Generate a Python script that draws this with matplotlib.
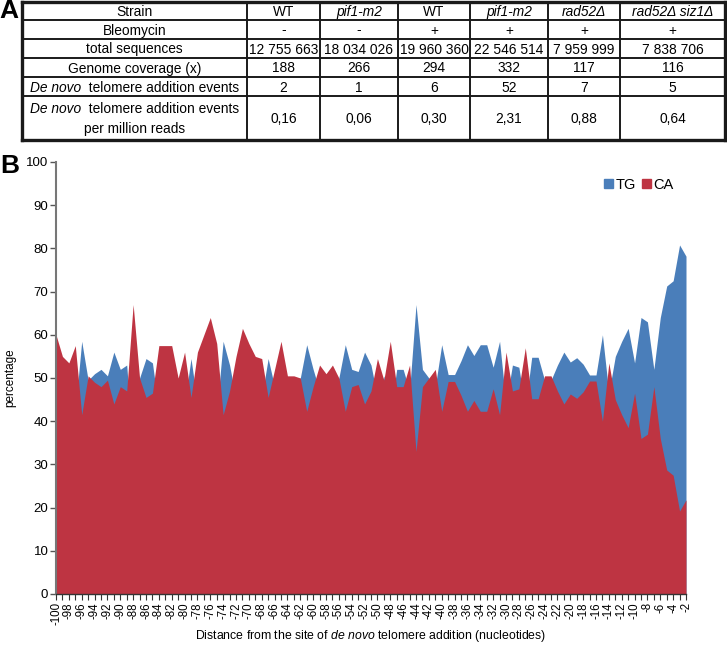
import matplotlib
matplotlib.use("Agg")
import matplotlib.pyplot as plt
from matplotlib.patches import Patch
from matplotlib import font_manager
import numpy as np

names = {f.name for f in font_manager.fontManager.ttflist}
narrow = 'Liberation Sans Narrow' in names

plt.rcParams['font.family'] = ['Liberation Sans', 'DejaVu Sans']
plt.rcParams['mathtext.fontset'] = 'custom'
plt.rcParams['mathtext.rm'] = 'Liberation Sans'
plt.rcParams['mathtext.it'] = 'Liberation Sans:italic'

# ---------------- data ----------------
positions = list(range(-100, -1))  # -100 .. -2

ca_values = [
    60, 55, 53.5, 57.5, 41.5, 50.5, 49, 48, 49.5, 44,      # -100 .. -91
    48, 47, 67, 50, 45.5, 46.5, 57.5, 57.5, 57.5, 50,      # -90 .. -81
    56, 45.5, 56, 60, 64, 58, 41.5, 47, 55, 61.5,         # -80 .. -71
    58, 55, 54.5, 45.5, 52, 58.5, 50.5, 50.5, 50, 42.3,   # -70 .. -61
    48, 53, 51, 53, 50, 42.3, 48, 48.5, 44, 47,           # -60 .. -51
    54.5, 49.5, 58.5, 48, 48, 53, 33, 48, 50, 52,         # -50 .. -41
    42.3, 49.2, 49.2, 46, 42.3, 44.8, 42.3, 42.3, 47.5, 41.5,  # -40 .. -31
    56, 47, 47.5, 57, 45.2, 45.2, 50.5, 50.5, 47, 44,     # -30 .. -21
    46.3, 45.3, 46.8, 49.3, 49.3, 40, 53.5, 45, 41.5, 38.5,   # -20 .. -11
    46.5, 36, 37, 48, 36, 28.7, 27.5, 19.2, 21.8,         # -10 .. -2
]

tg_values = [
    40, 45, 46.5, 42.5, 58.5, 49.5, 51, 52, 50.5, 56,
    52, 53, 33, 50, 54.5, 53.5, 42.5, 42.5, 42.5, 50,
    44, 54.5, 44, 40, 36, 42, 58.5, 53, 45, 38.5,
    42, 45, 45.5, 54.5, 48, 41.5, 49.5, 49.5, 50, 57.7,
    52, 47, 49, 47, 50, 57.7, 52, 51.5, 56, 53,
    45.5, 50.5, 41.5, 52, 52, 47, 67, 52, 50, 48,
    57.7, 50.8, 50.8, 54, 57.7, 55.2, 57.7, 57.7, 52.5, 58.5,
    44, 53, 52.5, 43, 54.8, 54.8, 49.5, 49.5, 53, 56,
    53.7, 54.7, 53.2, 50.7, 50.7, 60, 46.5, 55, 58.5, 61.5,
    53.5, 64, 63, 52, 64, 71.3, 72.5, 80.8, 78.2,
]

series_names = ["TG", "CA"]

table_columns = ["WT", "pif1-m2", "WT", "pif1-m2", "rad52\u0394", "rad52\u0394 siz1\u0394"]
col_italic = [False, True, False, True, True, True]
bleomycin = ["-", "-", "+", "+", "+", "+"]
total_sequences = ["12 755 663", "18 034 026", "19 960 360", "22 546 514", "7 959 999", "7 838 706"]
genome_coverage = ["188", "266", "294", "332", "117", "116"]
events = ["2", "1", "6", "52", "7", "5"]
events_per_million = ["0,16", "0,06", "0,30", "2,31", "0,88", "0,64"]

# ---------------- figure ----------------
W, H = 727, 645
fig = plt.figure(figsize=(W / 100, H / 100), dpi=100)

ov = fig.add_axes([0, 0, 1, 1])
ov.set_xlim(0, W)
ov.set_ylim(H, 0)
ov.axis('off')

blue = '#4A7EBA'
red = '#BE3442'

# ---- table (panel A) ----
if narrow:
    tfam = ['Liberation Sans Narrow', 'DejaVu Sans']
    fs = 10.8
else:
    tfam = ['Liberation Sans', 'DejaVu Sans']
    fs = 9.9

col_edges = [22, 247, 320, 398, 470, 548, 620, 725]
row_edges = [2, 20, 39, 58, 77, 96, 140]
for xe in col_edges:
    lw = 2.4 if xe in (col_edges[0], col_edges[-1]) else 1.4
    ov.plot([xe, xe], [row_edges[0], row_edges[-1]], color='#1a1a1a', lw=lw, solid_capstyle='projecting')
for ye in row_edges:
    lw = 2.4 if ye in (row_edges[0], row_edges[-1]) else 1.4
    ov.plot([col_edges[0], col_edges[-1]], [ye, ye], color='#1a1a1a', lw=lw, solid_capstyle='projecting')

ov.text(9, 11, "A", fontsize=19, fontweight='bold', ha='center', va='center')
ov.text(10, 166, "B", fontsize=19, fontweight='bold', ha='center', va='center')

row_labels = ["Strain", "Bleomycin", "total sequences", "Genome coverage (x)"]
rows_data = [table_columns, bleomycin, total_sequences, genome_coverage]
lx = (col_edges[0] + col_edges[1]) / 2
for r, (lab, vals) in enumerate(zip(row_labels, rows_data)):
    yc = (row_edges[r] + row_edges[r + 1]) / 2 + 1
    ov.text(lx, yc, lab, fontsize=fs, ha='center', va='center', family=tfam)
    for c, v in enumerate(vals):
        xc = (col_edges[c + 1] + col_edges[c + 2]) / 2
        st = 'italic' if (r == 0 and col_italic[c]) else 'normal'
        ov.text(xc, yc, v, fontsize=fs, ha='center', va='center', style=st, family=tfam)


def denovo_line(xc, yc):
    # "De novo" italic followed by regular text, centred as a whole
    t1 = ov.text(0, 0, "De novo", fontsize=fs, style='italic', family=tfam, va='center')
    t2 = ov.text(0, 0, "  telomere addition events", fontsize=fs, family=tfam, va='center')
    fig.canvas.draw()
    r = fig.canvas.get_renderer()
    inv = ov.transData.inverted()
    b1 = t1.get_window_extent(r)
    b2 = t2.get_window_extent(r)
    w1 = inv.transform((b1.x1, 0))[0] - inv.transform((b1.x0, 0))[0]
    w2 = inv.transform((b2.x1, 0))[0] - inv.transform((b2.x0, 0))[0]
    x0 = xc - (w1 + w2) / 2
    t1.set_position((x0, yc))
    t2.set_position((x0 + w1, yc))


yc = (row_edges[4] + row_edges[5]) / 2 + 1
denovo_line(lx, yc)
for c, v in enumerate(events):
    xc = (col_edges[c + 1] + col_edges[c + 2]) / 2
    ov.text(xc, yc, v, fontsize=fs, ha='center', va='center', family=tfam)
yc = (row_edges[5] + row_edges[6]) / 2 + 1
denovo_line(lx, yc - 10)
ov.text(lx, yc + 10, "per million reads", fontsize=fs, ha='center', va='center', family=tfam)
for c, v in enumerate(events_per_million):
    xc = (col_edges[c + 1] + col_edges[c + 2]) / 2
    ov.text(xc, yc, v, fontsize=fs, ha='center', va='center', family=tfam)

# ---- chart (panel B) ----
left, right, top, bottom = 56, 686, 162, 594
ax = fig.add_axes([left / W, (H - bottom) / H, (right - left) / W, (bottom - top) / H])
x = np.array(positions)
ax.fill_between(x, 0, tg_values, color=blue, lw=0, label=series_names[0])
ax.fill_between(x, 0, ca_values, color=red, lw=0, label=series_names[1])
ax.set_xlim(-100, -2)
ax.set_ylim(0, 100)
ax.set_yticks(range(0, 101, 10))
ax.set_xticks(range(-100, -1, 2))
ax.set_xticks(range(-100, -1, 1), minor=True)
ax.set_xticklabels([str(v) for v in range(-100, -1, 2)], rotation=90, fontsize=8.3)
ax.tick_params(axis='y', labelsize=9.5, length=4, width=1, color='#555555', pad=1.5)
ax.tick_params(axis='x', which='both', length=4, width=0.8, color='#333333', pad=2)
for s in ['top', 'right']:
    ax.spines[s].set_visible(False)
ax.spines['left'].set_color('#777777')
ax.spines['left'].set_linewidth(1.5)
ax.spines['bottom'].set_color('#333333')
ax.spines['bottom'].set_linewidth(1.0)

ov.text(10, 378, "percentage", fontsize=8.5, rotation=90, ha='center', va='center')
ov.text(371, 636, r"Distance from the site of $\it{de\ novo}$ telomere addition (nucleotides)",
        fontsize=8.8, ha='center', va='center')

handles = [Patch(color=blue), Patch(color=red)]
ax.legend(handles, series_names, loc='center right', bbox_to_anchor=(0.99, 0.947), ncol=2, frameon=False,
          handlelength=0.6, handleheight=0.6, handletextpad=0.2, columnspacing=0.4, fontsize=10.5,
          borderaxespad=0)

fig.savefig("out.png", dpi=100)
